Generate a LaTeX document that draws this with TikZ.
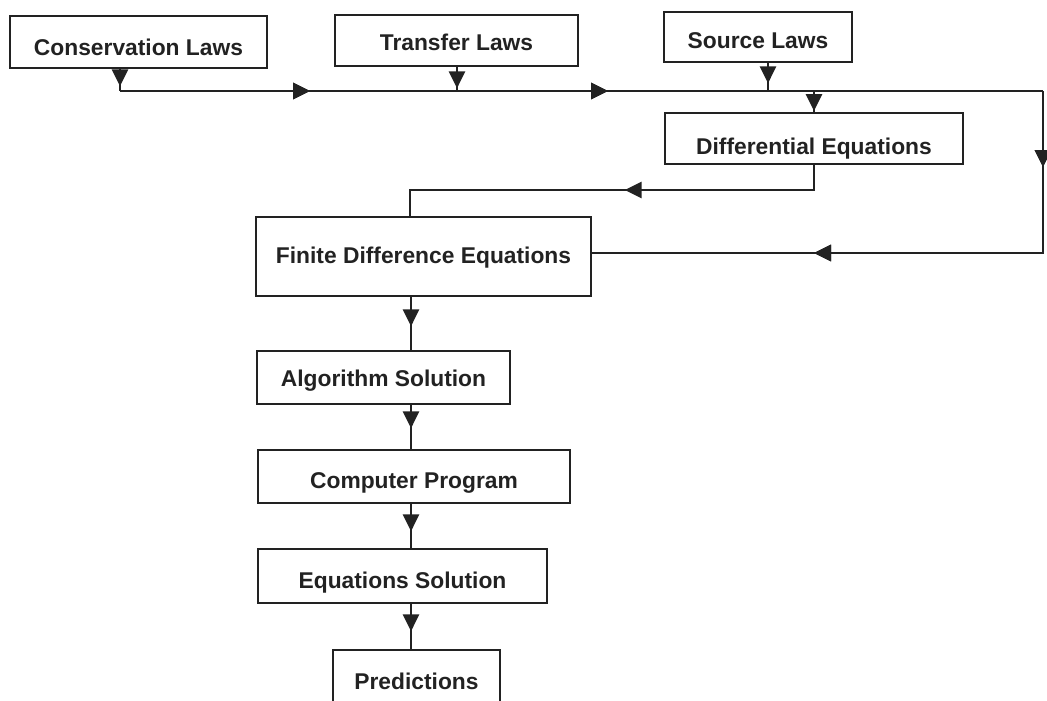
\documentclass[tikz,border=0pt]{standalone}
\usepackage{fontspec}
\setmainfont{Liberation Sans}
\usetikzlibrary{arrows.meta,decorations.markings}
\definecolor{ink}{RGB}{34,34,34}
\tikzset{
  box/.style={draw=ink, line width=2.8pt, inner sep=0pt, text=ink, text depth=0pt,
    font=\fontsize{22.8}{26}\selectfont\bfseries},
  conn/.style={draw=ink, line width=2.8pt, line join=miter},
  arrowat/.style={postaction={decorate},
    decoration={markings, mark=at position #1 with {\arrow[ink]{Triangle[length=17pt,width=16pt]}}}},
}
\begin{document}
\begin{tikzpicture}[x=1pt,y=-1pt]
\useasboundingbox (0,0) rectangle (1047,701);
% boxes
\node[box, minimum width=257pt, minimum height=52pt, text height=27.5pt] (cons) at (138.5,42) {Conservation Laws};
\node[box, minimum width=243pt, minimum height=51pt, text height=19.5pt] (trans) at (456.5,40.5) {Transfer Laws};
\node[box, minimum width=188pt, minimum height=50pt, text height=22.5pt] (src) at (758,37) {Source Laws};
\node[box, minimum width=298pt, minimum height=51pt, text height=31.5pt] (diff) at (814,138.5) {Differential Equations};
\node[box, minimum width=335pt, minimum height=79pt, text height=13.5pt] (fin) at (423.5,256.5) {Finite Difference Equations};
\node[box, minimum width=253pt, minimum height=53pt, text height=18.5pt] (alg) at (383.5,377.5) {Algorithm Solution};
\node[box, minimum width=312pt, minimum height=53pt, text height=24.5pt] (comp) at (414,476.5) {Computer Program};
\node[box, minimum width=289pt, minimum height=54pt, text height=24.5pt] (eqs) at (402.5,576) {Equations Solution};
\node[box, minimum width=167pt, minimum height=60pt, text height=18.5pt] (pred) at (416.5,680) {Predictions};
% junction coordinates
\coordinate (busL) at (120,91);
\coordinate (busT) at (457,91);
\coordinate (busS) at (768,91);
\coordinate (busD) at (814,91);
\coordinate (busR) at (1043,91);
\coordinate (cornerR) at (1043,253);
\coordinate (dA) at (814,190);
\coordinate (dB) at (410,190);
\coordinate (cx) at (411,0);
% bus
\draw[conn, arrowat=17pt] (cons.south -| busL) -- (busL);
\draw[conn, arrowat=21pt] (trans.south -| busT) -- (busT);
\draw[conn, arrowat=20pt] (src.south -| busS) -- (busS);
\draw[conn, arrowat=190pt, arrowat=488pt] (busL) -- (busR);
\draw[conn, arrowat=20pt] (busD) -- (diff.north);
% feedback loop on the right
\draw[conn, arrowat=76pt, arrowat=391pt] (busR) -- (cornerR) -- (fin.east |- cornerR);
% differential to finite
\draw[conn, arrowat=214pt] (diff.south) -- (dA) -- (dB) -- (fin.north -| dB);
% chain
\draw[conn, arrowat=29pt] (fin.south -| cx) -- (alg.north -| cx);
\draw[conn, arrowat=23pt] (alg.south -| cx) -- (comp.north -| cx);
\draw[conn, arrowat=27pt] (comp.south -| cx) -- (eqs.north -| cx);
\draw[conn, arrowat=27pt] (eqs.south -| cx) -- (pred.north -| cx);
\end{tikzpicture}
\end{document}
